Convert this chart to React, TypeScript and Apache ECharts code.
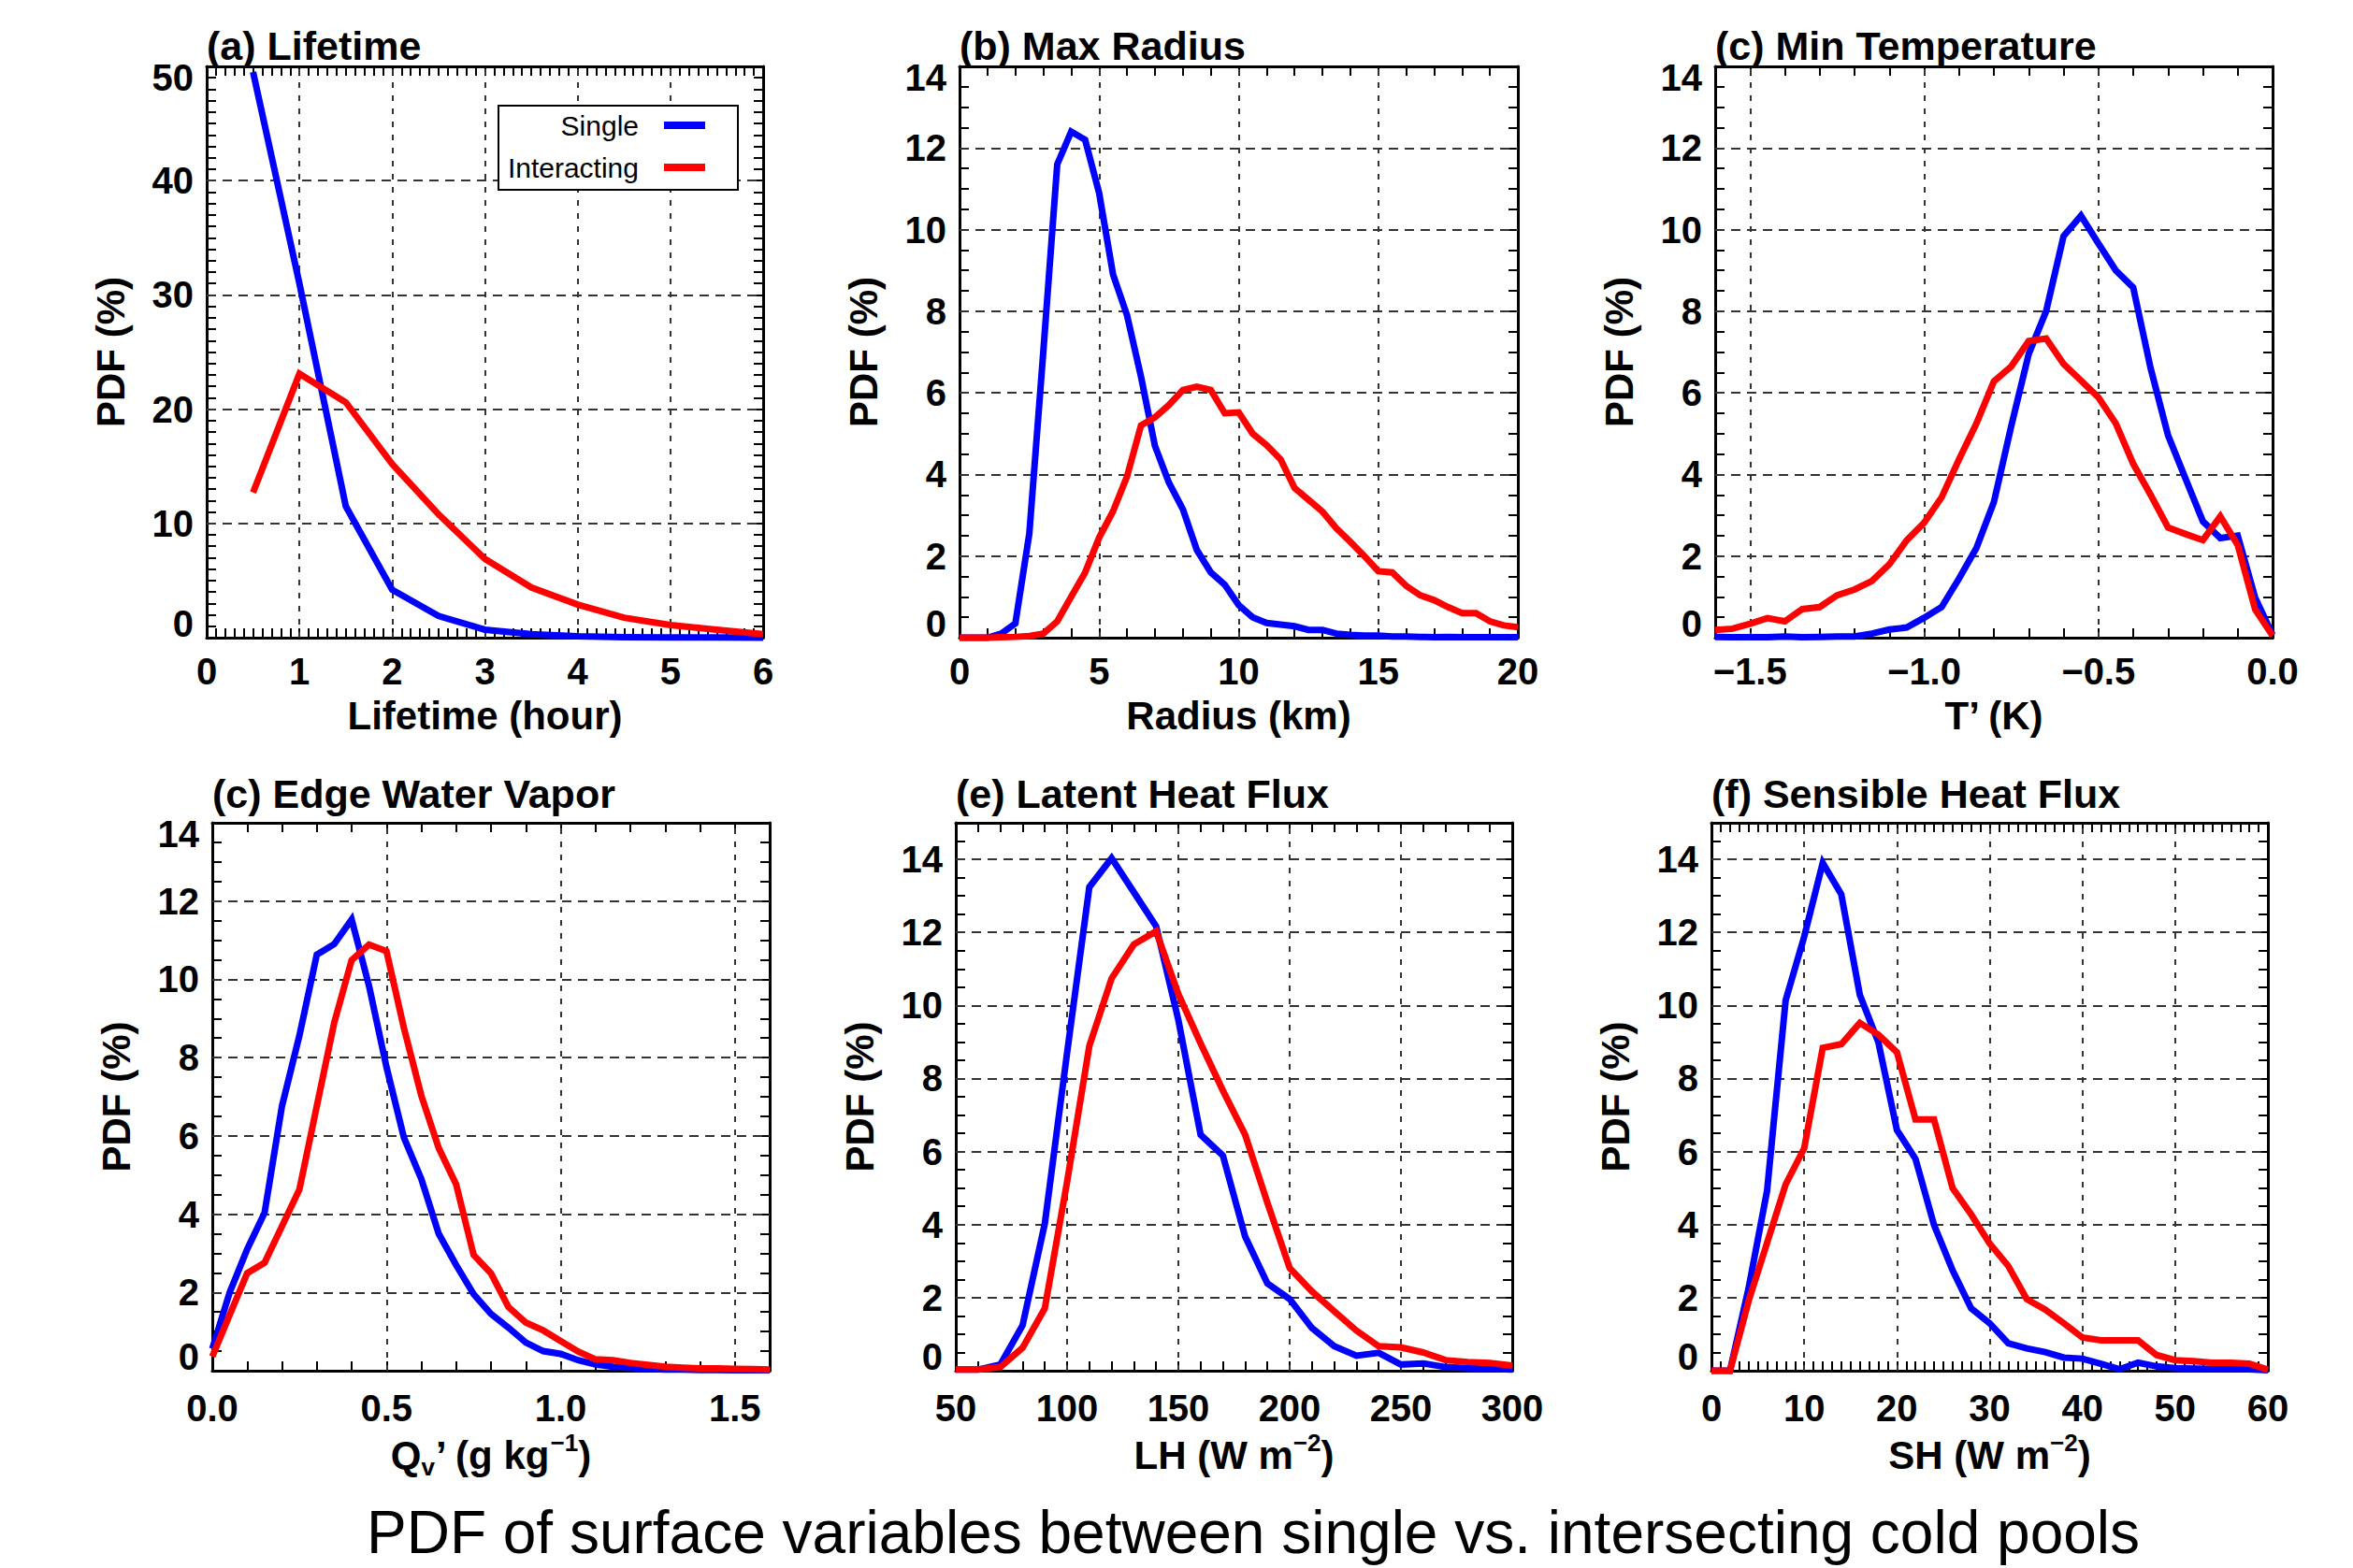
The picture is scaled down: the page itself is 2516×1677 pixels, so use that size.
import React, { useEffect, useRef } from 'react';
import * as echarts from 'echarts';

const FONT = "'Liberation Sans', Arial, Helvetica, sans-serif";
const BLUE = '#0000ff';
const RED = '#ff0000';
const GRID_COLOR = '#333333';
const MAIN_TITLE = 'PDF of surface variables between single vs. intersecting cold pools';
const SERIES_NAMES = ['Single', 'Interacting'];

// ---------- (a) Lifetime ----------
const lifetimeX = [0.5, 1, 1.5, 2, 2.5, 3, 3.5, 4, 4.5, 5, 5.5, 6];
const lifetimeSingle = [49.5, 31, 11.5, 4.2, 1.9, 0.7, 0.3, 0.12, 0.05, 0.03, 0.02, 0.01];
const lifetimeInteracting = [12.7, 23.1, 20.6, 15.2, 10.8, 6.9, 4.4, 2.9, 1.75, 1.1, 0.7, 0.3];
const lifetimeTicks = [0, 1, 2, 3, 4, 5, 6];
const lifetimePdfTicks = [0, 10, 20, 30, 40, 50];

// ---------- (b) Max Radius ----------
const radiusX = [0, 0.5, 1, 1.5, 2, 2.5, 3, 3.5, 4, 4.5, 5, 5.5, 6, 6.5, 7, 7.5, 8, 8.5, 9, 9.5, 10,
  10.5, 11, 11.5, 12, 12.5, 13, 13.5, 14, 14.5, 15, 15.5, 16, 16.5, 17, 17.5, 18, 18.5, 19, 19.5, 20];
const radiusSingle = [0, 0, 0, 0.1, 0.35, 2.55, 7.0, 11.6, 12.4, 12.2, 10.9, 8.9, 7.9, 6.4, 4.7, 3.8,
  3.15, 2.15, 1.6, 1.3, 0.8, 0.5, 0.36, 0.32, 0.28, 0.19, 0.19, 0.1, 0.07, 0.05, 0.05, 0.03, 0.03,
  0.02, 0.01, 0.02, 0.01, 0.01, 0.01, 0.01, 0.01];
const radiusInteracting = [0, 0, 0, 0.01, 0.02, 0.04, 0.1, 0.4, 1.0, 1.6, 2.45, 3.1, 3.95, 5.2, 5.4,
  5.7, 6.07, 6.15, 6.07, 5.5, 5.52, 5.0, 4.72, 4.37, 3.67, 3.38, 3.09, 2.68, 2.35, 2.0, 1.63, 1.6,
  1.27, 1.04, 0.92, 0.75, 0.6, 0.6, 0.4, 0.3, 0.26];
const radiusTicks = [0, 5, 10, 15, 20];

// ---------- (c) Min Temperature ----------
const tempX = [-1.6, -1.55, -1.5, -1.45, -1.4, -1.35, -1.3, -1.25, -1.2, -1.15, -1.1, -1.05, -1.0,
  -0.95, -0.9, -0.85, -0.8, -0.75, -0.7, -0.65, -0.6, -0.55, -0.5, -0.45, -0.4, -0.35, -0.3, -0.25,
  -0.2, -0.15, -0.1, -0.05, 0.0];
const tempSingle = [0.02, 0.01, 0.01, 0.01, 0.03, 0.01, 0.02, 0.03, 0.03, 0.1, 0.2, 0.25, 0.49, 0.75,
  1.45, 2.2, 3.32, 5.19, 6.95, 8.0, 9.84, 10.34, 9.66, 9.0, 8.58, 6.6, 4.96, 3.9, 2.85, 2.44, 2.5,
  0.98, 0.07];
const tempInteracting = [0.19, 0.22, 0.34, 0.48, 0.4, 0.7, 0.75, 1.04, 1.18, 1.39, 1.8, 2.39, 2.82,
  3.44, 4.37, 5.25, 6.28, 6.65, 7.27, 7.33, 6.71, 6.3, 5.89, 5.25, 4.26, 3.5, 2.7, 2.54, 2.39, 2.97,
  2.27, 0.69, 0.05];
const tempTicks = [-1.5, -1.0, -0.5, 0.0];

// ---------- (d) Edge Water Vapor ----------
const qvX = [0.0, 0.05, 0.1, 0.15, 0.2, 0.25, 0.3, 0.35, 0.4, 0.45, 0.5, 0.55, 0.6, 0.65, 0.7, 0.75,
  0.8, 0.85, 0.9, 0.95, 1.0, 1.05, 1.1, 1.15, 1.2, 1.25, 1.3, 1.35, 1.4, 1.45, 1.5, 1.55, 1.6];
const qvSingle = [0.56, 2.0, 3.1, 4.03, 6.76, 8.56, 10.63, 10.9, 11.53, 9.83, 7.76, 5.96, 4.9, 3.5,
  2.7, 1.96, 1.45, 1.1, 0.72, 0.5, 0.43, 0.27, 0.16, 0.1, 0.07, 0.05, 0.03, 0.03, 0.02, 0.02, 0.01,
  0.01, 0.01];
const qvInteracting = [0.36, 1.43, 2.49, 2.76, 3.69, 4.63, 6.76, 8.89, 10.49, 10.89, 10.72, 8.76,
  7.03, 5.69, 4.76, 2.96, 2.49, 1.63, 1.23, 1.03, 0.76, 0.49, 0.29, 0.27, 0.2, 0.15, 0.1, 0.08, 0.06,
  0.06, 0.05, 0.04, 0.03];
const qvTicks = [0.0, 0.5, 1.0, 1.5];

// ---------- (e) Latent Heat Flux ----------
const lhX = [50, 60, 70, 80, 90, 100, 110, 120, 130, 140, 150, 160, 170, 180, 190, 200, 210, 220,
  230, 240, 250, 260, 270, 280, 290, 300];
const lhSingle = [0.03, 0.03, 0.17, 1.24, 4.03, 8.7, 13.24, 14.03, 13.1, 12.17, 9.6, 6.46, 5.89,
  3.67, 2.39, 1.96, 1.17, 0.67, 0.41, 0.49, 0.17, 0.2, 0.1, 0.07, 0.05, 0.03];
const lhInteracting = [0.03, 0.03, 0.1, 0.63, 1.71, 5.17, 8.89, 10.74, 11.67, 12.03, 10.31, 8.96,
  7.67, 6.46, 4.6, 2.81, 2.17, 1.63, 1.1, 0.67, 0.64, 0.5, 0.29, 0.24, 0.21, 0.14];
const lhTicks = [50, 100, 150, 200, 250, 300];

// ---------- (f) Sensible Heat Flux ----------
const shX = [0, 2, 4, 6, 8, 10, 12, 14, 16, 18, 20, 22, 24, 26, 28, 30, 32, 34, 36, 38, 40, 42, 44,
  46, 48, 50, 52, 54, 56, 58, 60];
const shSingle = [0, 0, 2.25, 4.93, 10.14, 11.88, 13.9, 13.04, 10.29, 8.99, 6.59, 5.8, 3.99, 2.75,
  1.71, 1.3, 0.75, 0.61, 0.51, 0.36, 0.33, 0.19, 0.04, 0.22, 0.12, 0.07, 0.06, 0.05, 0.05, 0.04, 0.01];
const shInteracting = [0, 0, 1.9, 3.5, 5.1, 6.09, 8.84, 8.94, 9.52, 9.2, 8.72, 6.88, 6.88, 5.0, 4.28,
  3.48, 2.87, 1.96, 1.67, 1.3, 0.91, 0.83, 0.83, 0.83, 0.43, 0.29, 0.26, 0.22, 0.22, 0.19, 0.03];
const shTicks = [0, 10, 20, 30, 40, 50, 60];

const pdf14Ticks = [0, 2, 4, 6, 8, 10, 12, 14];

type Panel = {
  title: string;
  xName: string;
  xMin: number; xMax: number; xMinor: number; xTicks: number[]; xDec: number;
  yMax: number; yMinor: number; yTicks: number[]; yTopLabel: boolean;
  x: number[]; single: number[]; inter: number[];
  box: { left: number; top: number; width: number; height: number };
  titleTop: number; xLabelMargin: number; xNameGap: number;
};

const ROW1 = { top: 71, height: 611, titleTop: 27, xLabelMargin: 16, xNameGap: 57 };
const ROW2 = { top: 880, height: 586, titleTop: 827, xLabelMargin: 20, xNameGap: 64 };

const panels: Panel[] = [
  {
    title: '(a) Lifetime', xName: '{m|Lifetime (hour)}',
    xMin: 0, xMax: 6, xMinor: 0.1, xTicks: lifetimeTicks, xDec: 0,
    yMax: 50, yMinor: 1, yTicks: lifetimePdfTicks, yTopLabel: true,
    x: lifetimeX, single: lifetimeSingle, inter: lifetimeInteracting,
    box: { left: 221, top: ROW1.top, width: 595, height: ROW1.height },
    titleTop: ROW1.titleTop, xLabelMargin: ROW1.xLabelMargin, xNameGap: ROW1.xNameGap,
  },
  {
    title: '(b) Max Radius', xName: '{m|Radius (km)}',
    xMin: 0, xMax: 20, xMinor: 1, xTicks: radiusTicks, xDec: 0,
    yMax: 14, yMinor: 0.5, yTicks: pdf14Ticks, yTopLabel: true,
    x: radiusX, single: radiusSingle, inter: radiusInteracting,
    box: { left: 1026, top: ROW1.top, width: 597, height: ROW1.height },
    titleTop: ROW1.titleTop, xLabelMargin: ROW1.xLabelMargin, xNameGap: ROW1.xNameGap,
  },
  {
    title: '(c) Min Temperature', xName: '{m|T’ (K)}',
    xMin: -1.6, xMax: 0, xMinor: 0.1, xTicks: tempTicks, xDec: 1,
    yMax: 14, yMinor: 0.5, yTicks: pdf14Ticks, yTopLabel: true,
    x: tempX, single: tempSingle, inter: tempInteracting,
    box: { left: 1834, top: ROW1.top, width: 596, height: ROW1.height },
    titleTop: ROW1.titleTop, xLabelMargin: ROW1.xLabelMargin, xNameGap: ROW1.xNameGap,
  },
  {
    title: '(c) Edge Water Vapor', xName: '{m|Q}{sub|v}{m|’ (g kg}{sup|−1}{m|)}',
    xMin: 0, xMax: 1.6, xMinor: 0.1, xTicks: qvTicks, xDec: 1,
    yMax: 14, yMinor: 0.5, yTicks: pdf14Ticks, yTopLabel: true,
    x: qvX, single: qvSingle, inter: qvInteracting,
    box: { left: 227, top: ROW2.top, width: 596, height: ROW2.height },
    titleTop: ROW2.titleTop, xLabelMargin: ROW2.xLabelMargin, xNameGap: ROW2.xNameGap,
  },
  {
    title: '(e) Latent Heat Flux', xName: '{m|LH (W m}{sup|−2}{m|)}',
    xMin: 50, xMax: 300, xMinor: 10, xTicks: lhTicks, xDec: 0,
    yMax: 15, yMinor: 0.5, yTicks: pdf14Ticks, yTopLabel: false,
    x: lhX, single: lhSingle, inter: lhInteracting,
    box: { left: 1022, top: ROW2.top, width: 595, height: ROW2.height },
    titleTop: ROW2.titleTop, xLabelMargin: ROW2.xLabelMargin, xNameGap: ROW2.xNameGap,
  },
  {
    title: '(f) Sensible Heat Flux', xName: '{m|SH (W m}{sup|−2}{m|)}',
    xMin: 0, xMax: 60, xMinor: 1, xTicks: shTicks, xDec: 0,
    yMax: 15, yMinor: 0.5, yTicks: pdf14Ticks, yTopLabel: false,
    x: shX, single: shSingle, inter: shInteracting,
    box: { left: 1830, top: ROW2.top, width: 595, height: ROW2.height },
    titleTop: ROW2.titleTop, xLabelMargin: ROW2.xLabelMargin, xNameGap: ROW2.xNameGap,
  },
];

const near = (a: number, b: number) => Math.abs(a - b) < 1e-6;
const isMajor = (v: number, majors: number[]) => majors.some((m) => near(m, v));
const fmtNum = (v: number, dec: number) => {
  const val = Math.abs(v) < 1e-9 ? 0 : v;
  const s = dec > 0 ? val.toFixed(dec) : String(Math.round(val));
  return s.replace('-', '−');
};

const labelFont = { fontSize: 40, fontWeight: 'bold' as const, fontFamily: FONT, color: '#000' };
const nameRich = {
  m: { fontSize: 42, fontWeight: 'bold' as const, fontFamily: FONT, color: '#000', lineHeight: 52 },
  sup: { fontSize: 26, fontWeight: 'bold' as const, fontFamily: FONT, color: '#000', lineHeight: 28, verticalAlign: 'top' as const },
  sub: { fontSize: 26, fontWeight: 'bold' as const, fontFamily: FONT, color: '#000', lineHeight: 28, verticalAlign: 'bottom' as const },
};

function buildOption() {
  const grid: any[] = [];
  const xAxis: any[] = [];
  const yAxis: any[] = [];
  const series: any[] = [];
  const title: any[] = [];

  const axisLine = { show: true, onZero: false, lineStyle: { color: '#000', width: 3 } };
  const axisTick = { show: true, inside: true, length: 10, lineStyle: { color: '#000', width: 2 } };

  panels.forEach((p, k) => {
    grid.push({ ...p.box, show: false, containLabel: false });
    title.push({
      text: p.title, left: p.box.left, top: p.titleTop, padding: 0,
      textStyle: { fontSize: 43, fontWeight: 'bold', fontFamily: FONT, color: '#000' },
    });

    xAxis.push({
      type: 'value', gridIndex: k, position: 'bottom',
      min: p.xMin, max: p.xMax, interval: p.xMinor,
      axisLine, axisTick, splitLine: { show: false },
      axisLabel: {
        show: true, showMinLabel: true, showMaxLabel: true, margin: p.xLabelMargin, ...labelFont,
        formatter: (v: number) => (isMajor(v, p.xTicks) ? fmtNum(v, p.xDec) : ''),
      },
      name: p.xName, nameLocation: 'middle', nameGap: p.xNameGap,
      nameTextStyle: { rich: nameRich },
    });
    xAxis.push({
      type: 'value', gridIndex: k, position: 'top',
      min: p.xMin, max: p.xMax, interval: p.xMinor,
      axisLine, axisTick, splitLine: { show: false }, axisLabel: { show: false },
    });

    yAxis.push({
      type: 'value', gridIndex: k, position: 'left',
      min: 0, max: p.yMax, interval: p.yMinor,
      axisLine, axisTick, splitLine: { show: false },
      axisLabel: {
        show: true, showMinLabel: true, showMaxLabel: true, margin: 14, ...labelFont,
        formatter: (v: number) => {
          if (near(v, 0)) return '{z|0}';
          if (near(v, p.yMax)) return p.yTopLabel ? `{t|${fmtNum(v, 0)}}` : '';
          return isMajor(v, p.yTicks) ? fmtNum(v, 0) : '';
        },
        rich: {
          z: { ...labelFont, padding: [0, 0, 30, 0] },
          t: { ...labelFont, padding: [24, 0, 0, 0] },
        },
      },
      name: 'PDF (%)', nameLocation: 'middle', nameGap: 82,
      nameTextStyle: { fontSize: 42, fontWeight: 'bold', fontFamily: FONT, color: '#000' },
    });
    yAxis.push({
      type: 'value', gridIndex: k, position: 'right',
      min: 0, max: p.yMax, interval: p.yMinor,
      axisLine, axisTick, splitLine: { show: false }, axisLabel: { show: false },
    });

    const xGrid = p.xTicks.filter((v) => v > p.xMin + 1e-9 && v < p.xMax - 1e-9);
    const yGrid = p.yTicks.filter((v) => v > 1e-9 && v < p.yMax - 1e-9);

    series.push({
      type: 'line', name: '__grid' + k, xAxisIndex: 2 * k, yAxisIndex: 2 * k,
      data: [], silent: true, z: 1,
      markLine: {
        silent: true, z: 1, symbol: ['none', 'none'], animation: false,
        label: { show: false }, emphasis: { disabled: true },
        lineStyle: { color: GRID_COLOR, width: 2 },
        data: [
          ...xGrid.map((v) => ({ xAxis: v, lineStyle: { color: GRID_COLOR, width: 2, type: [6, 8] } })),
          ...yGrid.map((v) => ({ yAxis: v, lineStyle: { color: GRID_COLOR, width: 2, type: [10, 7] } })),
        ],
      },
    });

    const mk = (name: string, ys: number[], color: string) => ({
      type: 'line', name, xAxisIndex: 2 * k, yAxisIndex: 2 * k,
      data: p.x.map((xv, i) => [xv, ys[i]]),
      showSymbol: false, symbol: 'none', clip: false, z: 3, silent: true,
      lineStyle: { color, width: 7, join: 'miter' },
      itemStyle: { color },
      emphasis: { disabled: true },
    });
    series.push(mk(SERIES_NAMES[0], p.single, BLUE));
    series.push(mk(SERIES_NAMES[1], p.inter, RED));
  });

  return {
    animation: false,
    backgroundColor: '#ffffff',
    title,
    grid,
    xAxis,
    yAxis,
    series,
    legend: {
      data: SERIES_NAMES,
      left: 533, top: 113, orient: 'vertical', align: 'right',
      itemGap: 15, itemWidth: 44, itemHeight: 8, icon: 'rect',
      padding: [6, 35, 9, 9],
      borderColor: '#000', borderWidth: 2, backgroundColor: '#ffffff',
      selectedMode: false, z: 6,
      formatter: '{n|{name}}',
      textStyle: {
        fontSize: 30, fontFamily: FONT, color: '#000',
        rich: { n: { width: 141, align: 'right', fontSize: 30, fontFamily: FONT, color: '#000', lineHeight: 36, padding: [0, 22, 0, 0] } },
      },
    },
    graphic: [
      {
        type: 'text', x: 1340, y: 1639, silent: true,
        style: { text: MAIN_TITLE, fontSize: 64, fontFamily: FONT, fill: '#000', align: 'center', verticalAlign: 'middle' },
      },
    ],
  };
}

export default function App() {
  const ref = useRef<HTMLDivElement>(null);
  useEffect(() => {
    if (!ref.current) return;
    const chart = echarts.init(ref.current, undefined, { renderer: 'svg' });
    chart.setOption(buildOption() as any);
    return () => chart.dispose();
  }, []);
  return (
    <div
      ref={ref}
      style={{ position: 'absolute', left: 0, top: 0, width: 2516, height: 1677, background: '#fff' }}
    />
  );
}
